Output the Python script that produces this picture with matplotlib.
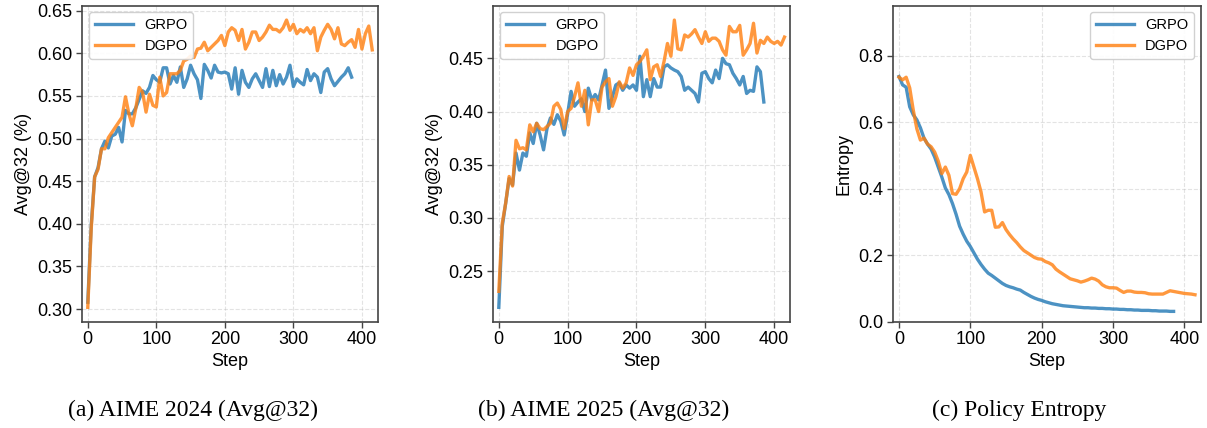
import numpy as np
import matplotlib
matplotlib.use("Agg")
import matplotlib.pyplot as plt

# ---------------- data ----------------
STEP = 5

aime24_grpo = [0.308, 0.398, 0.455, 0.466, 0.488, 0.497, 0.489, 0.503, 0.505, 0.513,
               0.496, 0.533, 0.529, 0.529, 0.536, 0.546, 0.556, 0.553, 0.560, 0.574,
               0.569, 0.566, 0.583, 0.583, 0.564, 0.574, 0.566, 0.584, 0.560, 0.570,
               0.586, 0.576, 0.569, 0.547, 0.587, 0.580, 0.571, 0.586, 0.578, 0.577,
               0.578, 0.576, 0.558, 0.583, 0.552, 0.580, 0.566, 0.560, 0.570, 0.576,
               0.568, 0.560, 0.582, 0.561, 0.580, 0.562, 0.575, 0.564, 0.572, 0.586,
               0.561, 0.570, 0.566, 0.563, 0.581, 0.568, 0.576, 0.572, 0.554, 0.578,
               0.582, 0.570, 0.562, 0.567, 0.572, 0.576, 0.583, 0.572]
aime24_dgpo = [0.302, 0.394, 0.455, 0.464, 0.488, 0.488, 0.501, 0.507, 0.513, 0.519,
               0.525, 0.549, 0.529, 0.515, 0.535, 0.560, 0.554, 0.531, 0.552, 0.539,
               0.537, 0.572, 0.550, 0.554, 0.576, 0.576, 0.576, 0.580, 0.591, 0.593,
               0.597, 0.595, 0.605, 0.606, 0.613, 0.603, 0.607, 0.611, 0.615, 0.621,
               0.609, 0.625, 0.630, 0.627, 0.615, 0.628, 0.605, 0.613, 0.625, 0.625,
               0.615, 0.619, 0.625, 0.633, 0.628, 0.628, 0.625, 0.630, 0.639, 0.627,
               0.634, 0.623, 0.628, 0.625, 0.630, 0.623, 0.630, 0.603, 0.619, 0.627,
               0.634, 0.628, 0.617, 0.630, 0.611, 0.609, 0.613, 0.616, 0.607, 0.628,
               0.605, 0.623, 0.632, 0.604]

aime25_grpo = [0.216, 0.292, 0.314, 0.337, 0.331, 0.361, 0.345, 0.361, 0.358, 0.380,
               0.370, 0.389, 0.378, 0.364, 0.384, 0.394, 0.388, 0.397, 0.391, 0.378,
               0.398, 0.419, 0.405, 0.409, 0.412, 0.400, 0.422, 0.411, 0.416, 0.411,
               0.425, 0.439, 0.403, 0.414, 0.425, 0.427, 0.420, 0.425, 0.422, 0.425,
               0.420, 0.452, 0.414, 0.430, 0.414, 0.431, 0.423, 0.423, 0.442, 0.444,
               0.441, 0.439, 0.4375, 0.433, 0.420, 0.423, 0.420, 0.417, 0.409, 0.436,
               0.4375, 0.431, 0.427, 0.439, 0.431, 0.450, 0.445, 0.444, 0.436, 0.431,
               0.425, 0.433, 0.417, 0.420, 0.419, 0.442, 0.4375, 0.409]
aime25_dgpo = [0.231, 0.295, 0.314, 0.339, 0.330, 0.373, 0.365, 0.366, 0.364, 0.3875,
               0.381, 0.389, 0.384, 0.383, 0.386, 0.389, 0.405, 0.408, 0.402, 0.384,
               0.400, 0.403, 0.414, 0.427, 0.405, 0.420, 0.3875, 0.411, 0.411, 0.400,
               0.423, 0.428, 0.431, 0.405, 0.414, 0.428, 0.422, 0.427, 0.441, 0.434,
               0.444, 0.447, 0.452, 0.458, 0.430, 0.442, 0.444, 0.433, 0.447, 0.464,
               0.452, 0.486, 0.459, 0.458, 0.472, 0.470, 0.473, 0.477, 0.470, 0.464,
               0.475, 0.466, 0.469, 0.469, 0.466, 0.458, 0.453, 0.480, 0.475, 0.475,
               0.481, 0.453, 0.458, 0.464, 0.483, 0.455, 0.467, 0.464, 0.470, 0.466,
               0.464, 0.466, 0.4625, 0.470]

entropy_grpo = [0.737, 0.712, 0.705, 0.646, 0.622, 0.607, 0.583, 0.552, 0.534, 0.519,
                0.495, 0.465, 0.435, 0.402, 0.382, 0.355, 0.323, 0.287, 0.263, 0.242,
                0.226, 0.207, 0.188, 0.172, 0.158, 0.146, 0.139, 0.131, 0.123, 0.115,
                0.109, 0.105, 0.102, 0.098, 0.095, 0.088, 0.082, 0.076, 0.071, 0.067,
                0.064, 0.060, 0.057, 0.054, 0.052, 0.050, 0.048, 0.047, 0.046, 0.045,
                0.044, 0.043, 0.042, 0.042, 0.041, 0.041, 0.040, 0.040, 0.039, 0.039,
                0.038, 0.038, 0.037, 0.037, 0.036, 0.036, 0.035, 0.035, 0.034, 0.034,
                0.034, 0.033, 0.033, 0.032, 0.032, 0.032, 0.031, 0.031]
entropy_dgpo = [0.735, 0.727, 0.735, 0.703, 0.636, 0.580, 0.546, 0.552, 0.534, 0.526,
                0.510, 0.483, 0.445, 0.465, 0.440, 0.385, 0.383, 0.400, 0.430, 0.450,
                0.500, 0.465, 0.430, 0.390, 0.330, 0.335, 0.335, 0.284, 0.285, 0.298,
                0.277, 0.262, 0.249, 0.238, 0.225, 0.214, 0.207, 0.200, 0.193, 0.189,
                0.188, 0.181, 0.177, 0.171, 0.158, 0.150, 0.143, 0.136, 0.129, 0.126,
                0.123, 0.119, 0.122, 0.126, 0.131, 0.128, 0.122, 0.111, 0.105, 0.102,
                0.102, 0.101, 0.094, 0.088, 0.092, 0.092, 0.089, 0.088, 0.088, 0.087,
                0.084, 0.083, 0.083, 0.083, 0.083, 0.088, 0.093, 0.091, 0.089, 0.087,
                0.085, 0.084, 0.083, 0.081]

captions = ["(a) AIME 2024 (Avg@32)", "(b) AIME 2025 (Avg@32)", "(c) Policy Entropy"]
ylabels = ["Avg@32 (%)", "Avg@32 (%)", "Entropy"]
series_names = ["GRPO", "DGPO"]
xticks = [0, 100, 200, 300, 400]

# ---------------- style ----------------
plt.rcParams['font.family'] = ['Liberation Sans', 'DejaVu Sans']
BLUE = '#1f77b4'
ORANGE = '#ff7f0e'
W, H = 1207, 428
fig = plt.figure(figsize=(W / 100, H / 100), dpi=100)

# axes boxes in pixels (left, right)
boxes = [(82.3, 377.7), (493.3, 790.0), (893.3, 1200.7)]
top_px, bot_px = 5.7, 321.7
cap_x = [193, 604, 1019]

panels = [
    (aime24_grpo, aime24_dgpo, 'upper left'),
    (aime25_grpo, aime25_dgpo, 'upper left'),
    (entropy_grpo, entropy_dgpo, 'upper right'),
]

for i, ((g, d, loc), (l, r)) in enumerate(zip(panels, boxes)):
    ax = fig.add_axes([l / W, (H - bot_px) / H, (r - l) / W, (bot_px - top_px) / H])
    xg = np.arange(len(g)) * STEP
    xd = np.arange(len(d)) * STEP
    ax.plot(xg, g, color=BLUE, lw=2.4, alpha=0.8, label=series_names[0])
    ax.plot(xd, d, color=ORANGE, lw=2.4, alpha=0.8, label=series_names[1])
    ax.set_xlim(-8, 423)
    if i == 2:
        ax.set_ylim(0, 0.95)
        ax.set_yticks([0.0, 0.2, 0.4, 0.6, 0.8])
    elif i == 0:
        ax.set_yticks(np.arange(0.30, 0.651, 0.05))
    else:
        ax.set_yticks(np.arange(0.25, 0.451, 0.05))
    ax.set_xticks(xticks)
    ax.grid(True, linestyle='--', color='#b0b0b0', alpha=0.35, lw=0.8)
    for sp in ax.spines.values():
        sp.set_color('#444444')
        sp.set_linewidth(1.2)
    ax.tick_params(labelsize=13, length=4, width=1.0, color='#444444', pad=3)
    ax.set_xlabel('Step', fontsize=13, labelpad=3)
    ax.set_ylabel(ylabels[i], fontsize=13, labelpad=4)
    ax.legend(loc=loc, fontsize=10.5, handlelength=2.6, frameon=True,
              fancybox=True, framealpha=0.9, edgecolor='#cccccc',
              borderaxespad=0.45)
    fig.text(cap_x[i] / W, (H - 410) / H, captions[i], ha='center', va='center',
             fontsize=17, family=['Liberation Serif', 'DejaVu Serif'])

fig.savefig('out.png', dpi=100)
